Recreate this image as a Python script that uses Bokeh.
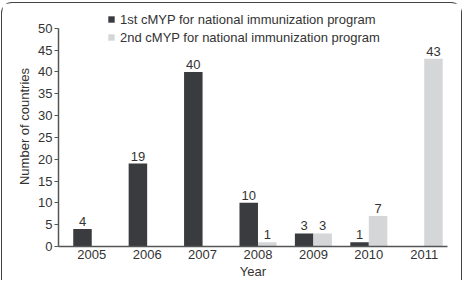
from bokeh.plotting import figure
from bokeh.models import Legend, LegendItem, ColumnDataSource, FixedTicker, LabelSet
from bokeh.core.properties import value
from bokeh.transform import dodge
from bokeh.embed import file_html
from bokeh.resources import INLINE

years = ["2005", "2006", "2007", "2008", "2009", "2010", "2011"]
first_cmyp = [4, 19, 40, 10, 3, 1, 0]
second_cmyp = [0, 0, 0, 1, 3, 7, 43]

FONT = "Liberation Sans"
DARK = "#393b3f"
LIGHT = "#d5d6d8"
TEXT = "#333333"

idx = list(range(len(years)))
src1 = ColumnDataSource(dict(x=idx, y=first_cmyp,
                             lbl=[str(v) if v > 0 else "" for v in first_cmyp]))
src2 = ColumnDataSource(dict(x=idx, y=second_cmyp,
                             lbl=[str(v) if v > 0 else "" for v in second_cmyp]))

p = figure(width=461, height=278, output_backend="svg", toolbar_location=None,
           x_range=(-0.6, 6.42), y_range=(0, 55),
           min_border_left=56, min_border_right=16, min_border_top=3, min_border_bottom=32,
           styles={"border": "1.5px solid #444444", "border-bottom": "none",
                   "border-radius": "11px 11px 0 0",
                   "margin-left": "1px", "margin-top": "2px"})
p.outline_line_color = None
p.grid.grid_line_color = None
p.background_fill_color = "white"
p.border_fill_color = "white"

bw = 0.334
r1 = p.vbar(x=dodge("x", -bw / 2), top="y", width=bw, source=src1,
            fill_color=DARK, line_color=None)
r2 = p.vbar(x=dodge("x", bw / 2), top="y", width=bw, source=src2,
            fill_color=LIGHT, line_color=None)

for src, off in ((src1, -bw / 2), (src2, bw / 2)):
    p.add_layout(LabelSet(x=dodge("x", off), y="y", text="lbl", source=src,
                          text_align="center", text_baseline="bottom", y_offset=3,
                          text_font=value(FONT), text_font_size=value("13px"),
                          text_color=TEXT))

# axes
p.xaxis.ticker = FixedTicker(ticks=idx)
p.xaxis.major_label_overrides = {i: y for i, y in enumerate(years)}
p.xaxis.major_tick_out = 0
p.xaxis.major_tick_in = 0
p.xaxis.minor_tick_line_color = None
p.xaxis.axis_label = "Year"
p.xaxis.major_label_standoff = 3
p.xaxis.axis_label_standoff = 2

p.yaxis.ticker = FixedTicker(ticks=list(range(0, 51, 5)))
p.yaxis.bounds = (0, 50)
p.yaxis.major_tick_out = 4
p.yaxis.major_tick_in = 0
p.yaxis.minor_tick_line_color = None
p.yaxis.axis_label = "Number of countries"
p.yaxis.major_label_standoff = 2
p.yaxis.axis_label_standoff = 3

for ax in (p.xaxis, p.yaxis):
    ax.axis_line_color = "#555555"
    ax.axis_line_width = 1.5
    ax.major_tick_line_color = "#555555"
    ax.major_label_text_font = FONT
    ax.major_label_text_font_size = "13px"
    ax.major_label_text_color = TEXT
    ax.axis_label_text_font = FONT
    ax.axis_label_text_font_size = "13px"
    ax.axis_label_text_font_style = "normal"
    ax.axis_label_text_color = TEXT

legend = Legend(items=[
    LegendItem(label="1st cMYP for national immunization program", renderers=[r1]),
    LegendItem(label="2nd cMYP for national immunization program", renderers=[r2]),
], location=(49, 201))
legend.glyph_width = 8
legend.glyph_height = 8
legend.label_height = 16
legend.spacing = 2
legend.label_standoff = 5
legend.padding = 0
legend.margin = 0
legend.border_line_color = None
legend.background_fill_alpha = 0
legend.label_text_font = FONT
legend.label_text_font_size = "13px"
legend.label_text_color = TEXT
p.add_layout(legend, "center")

open("out.html", "w").write(file_html(p, INLINE))
